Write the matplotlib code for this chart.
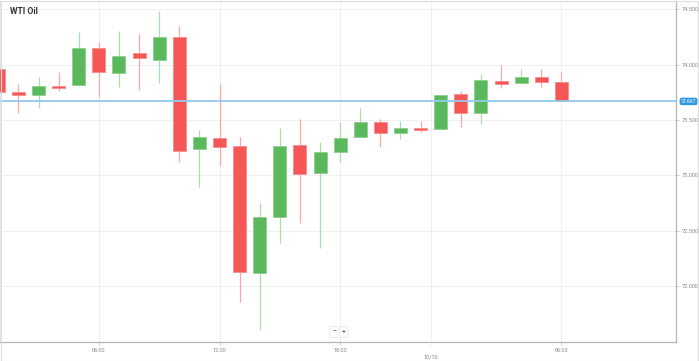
import numpy as np
import matplotlib
matplotlib.use("Agg")
import matplotlib.pyplot as plt
from matplotlib.patches import Rectangle

plt.rcParams['font.family'] = ['Roboto', 'DejaVu Sans']

# hourly candles, oldest first
opens = [73.960, 73.750, 73.728, 73.804, 73.816, 74.147, 73.921, 74.105, 74.042, 74.247,
         73.234, 73.336, 73.267, 72.118, 72.625, 73.270, 73.017, 73.207, 73.343, 73.484,
         73.384, 73.431, 73.415, 73.731, 73.565, 73.852, 73.836, 73.885, 73.845]
highs = [73.965, 73.825, 73.891, 73.936, 74.297, 74.204, 74.304, 74.279, 74.485, 74.349,
         73.409, 73.822, 73.348, 72.751, 73.430, 73.508, 73.303, 73.484, 73.605, 73.508,
         73.493, 73.488, 73.729, 73.761, 73.912, 73.996, 73.960, 73.960, 73.936]
lows = [73.745, 73.562, 73.608, 73.764, 73.807, 73.710, 73.800, 73.770, 73.831, 73.122,
        72.896, 73.086, 71.856, 71.600, 72.384, 72.571, 72.339, 73.122, 73.341, 73.258,
        73.330, 73.391, 73.406, 73.433, 73.460, 73.791, 73.834, 73.795, 73.667]
closes = [73.752, 73.725, 73.809, 73.791, 74.147, 73.930, 74.080, 74.057, 74.252, 73.222,
          73.343, 73.252, 72.122, 72.625, 73.264, 73.011, 73.213, 73.339, 73.478, 73.384,
          73.427, 73.409, 73.725, 73.560, 73.858, 73.827, 73.891, 73.845, 73.667]
last_price = 73.667

x_tick_pos = [5, 11, 17, 28]
x_tick_labels = ['06:00', '12:00', '18:00', '06:00']
day_pos = 21.5
day_label = '10/10'
y_ticks = [72.0, 72.5, 73.0, 73.5, 74.0, 74.5]

W, H = 699, 361
fig = plt.figure(figsize=(W / 100, H / 100), dpi=100)
ax = fig.add_axes([0 / W, 1 - 342 / H, 676 / W, 341 / H])

green, red = '#5cb85c', '#f55757'
green_w, red_w = '#acdcac', '#f9a8a8'

o = np.array(opens); c = np.array(closes)
hi = np.array(highs); lo = np.array(lows)
xs = np.arange(len(o))
up = c >= o

ax.vlines(xs[up], lo[up], hi[up], color=green_w, lw=0.9, zorder=2)
ax.vlines(xs[~up], lo[~up], hi[~up], color=red_w, lw=0.9, zorder=2)
ax.bar(xs[up], (c - o)[up], bottom=o[up], width=0.65, color=green,
       edgecolor='#8fd08f', lw=0.6, zorder=3)
ax.bar(xs[~up], (o - c)[~up], bottom=c[~up], width=0.65, color=red,
       edgecolor='#f88c8c', lw=0.6, zorder=3)

ax.axhline(last_price, color='#92c9ef', lw=1.3, zorder=4)

ax.set_xlim(0.085, 33.7)
ax.set_ylim(71.492, 74.575)

for yv in y_ticks:
    ax.axhline(yv, color='#f0f0f0', lw=0.8, zorder=0)
for xv in x_tick_pos + [day_pos]:
    ax.axvline(xv, color='#f0f0f0', lw=0.8, zorder=0)

ax.yaxis.tick_right()
ax.set_yticks(y_ticks)
ax.set_yticklabels([f'{v:.3f}' for v in y_ticks], fontsize=4, color='#888888')
ax.tick_params(axis='y', length=2.5, width=0.5, color='#bbbbbb', pad=1.5)
ax.set_xticks(x_tick_pos)
ax.set_xticklabels(x_tick_labels, fontsize=4, color='#888888')
ax.tick_params(axis='x', length=2.5, width=0.5, color='#bbbbbb', pad=1.5)

# day separator label sits lower
ax.annotate(day_label, xy=(day_pos, 0), xycoords=('data', 'axes fraction'),
            xytext=(0, -11), textcoords='offset points', ha='center', va='center',
            fontsize=4, color='#888888', annotation_clip=False)
ax.annotate('', xy=(day_pos, 0), xycoords=('data', 'axes fraction'),
            xytext=(0, -5), textcoords='offset points', annotation_clip=False,
            arrowprops=dict(arrowstyle='-', color='#bbbbbb', lw=0.5, ls=(0, (1, 1))))

for s in ['top', 'left']:
    ax.spines[s].set_color('#e6e6e6')
    ax.spines[s].set_linewidth(0.8)
for s in ['right', 'bottom']:
    ax.spines[s].set_color('#b5b5b5')
    ax.spines[s].set_linewidth(0.9)

# last price tag
ax.annotate(f'{last_price:.3f}', xy=(1, last_price), xycoords=('axes fraction', 'data'),
            xytext=(3.5, 0), textcoords='offset points', ha='left', va='center',
            fontsize=3.6, color='white', annotation_clip=False,
            bbox=dict(boxstyle='round,pad=0.25,rounding_size=0.4', fc='#2f98e0', ec='none'))

fig.text(10 / W, 1 - 11 / H, 'WTI Oil', fontsize=6.2, fontweight='bold', color='#333333',
         ha='left', va='center')

# zoom buttons
for bx, lab in [(334, '−'), (344, '+')]:
    fig.text(bx / W, 1 - 332 / H, lab, fontsize=5, color='#555555', ha='center', va='center',
             bbox=dict(boxstyle='round,pad=0.3', fc='white', ec='#e2e2e2', lw=0.5))

fig.patches.append(Rectangle((0.5 / W, 0.5 / H), 1 - 2 / W, 1 - 1.5 / H, transform=fig.transFigure,
                             fill=False, ec='#dddddd', lw=0.8))

fig.savefig('out.png', dpi=100)
